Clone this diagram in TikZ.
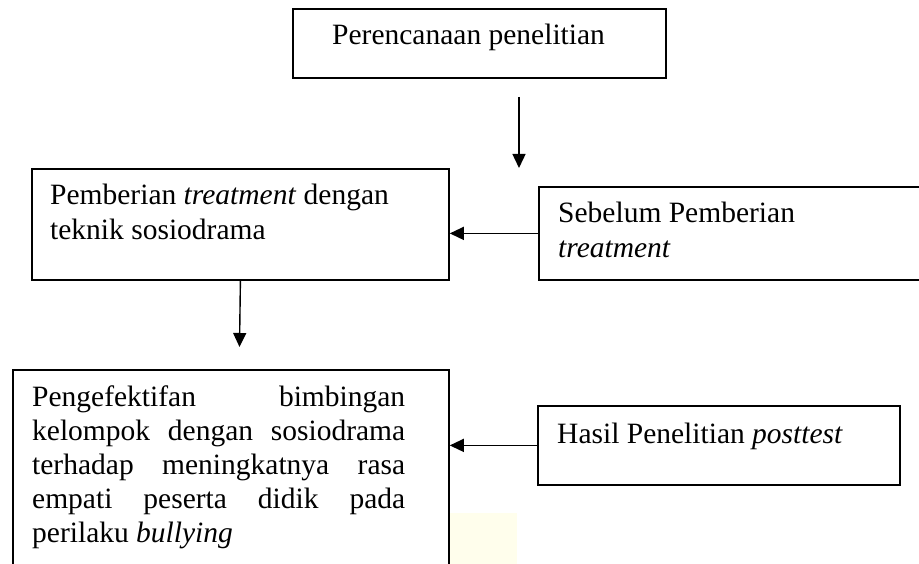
\documentclass[tikz,border=0pt]{standalone}
\usepackage{fontspec}
\setmainfont{Liberation Serif}
\usetikzlibrary{arrows.meta}
\begin{document}
\begin{tikzpicture}[x=1pt,y=-1pt,
  boxst/.style={draw, line width=1.8pt, inner sep=0pt, anchor=north west},
  txt/.style={anchor=base west, inner sep=0pt, font=\fontsize{29.5}{34}\selectfont},
  arr/.style={line width=1.4pt, -{Triangle[length=14pt,width=13pt]}}]
\useasboundingbox (0,0) rectangle (919,564);
\fill[yellow!12, opacity=0.6] (450,513) rectangle (517,564);
% boxes
\node[boxst, minimum width=373pt, minimum height=69pt] (top) at (292,8) {};
\node[boxst, minimum width=417pt, minimum height=111pt] (treat) at (31,168) {};
\node[boxst, minimum width=392pt, minimum height=93pt] (before) at (538,186) {};
\node[boxst, minimum width=436pt, minimum height=231pt] (result) at (12,369) {};
\node[boxst, minimum width=362pt, minimum height=79pt] (post) at (537,405) {};
% texts
\node[txt] (t1) at (332,45) {Perencanaan penelitian};
\node[txt] (t2a) at (50,205) {Pemberian \textit{treatment} dengan};
\node[txt] (t2b) at (50,240) {teknik sosiodrama};
\node[txt] (t3a) at (558,223) {Sebelum Pemberian};
\node[txt] (t3b) at (558,258) {\textit{treatment}};
\node[txt] (t4a) at (32,406) {\makebox[373pt][s]{Pengefektifan bimbingan}};
\node[txt] (t4b) at (32,440) {\makebox[373pt][s]{kelompok dengan sosiodrama}};
\node[txt] (t4c) at (32,474) {\makebox[373pt][s]{terhadap meningkatnya rasa}};
\node[txt] (t4d) at (32,508) {\makebox[373pt][s]{empati peserta didik pada}};
\node[txt] (t4e) at (32,542) {perilaku \textit{bullying}};
\node[txt] (t5) at (557,443) {Hasil Penelitian \textit{posttest}};
% connectors
\coordinate (a1s) at (519,97);
\coordinate (a1e) at (519,168);
\draw[arr] (a1s) -- (a1e);
\draw[arr] (before.west) -- (before.west -| treat.east);
\coordinate (a3e) at (239.5,347);
\draw[arr] (treat.south) -- (a3e);
\draw[arr] (post.west) -- (post.west -| result.east);
\end{tikzpicture}
\end{document}
